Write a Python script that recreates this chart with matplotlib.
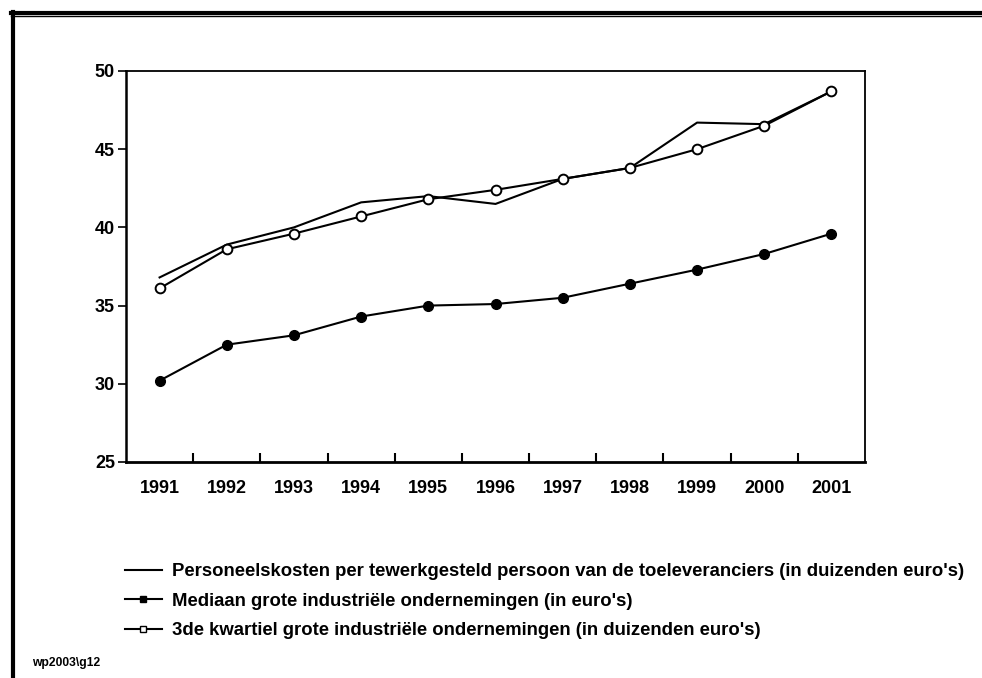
import matplotlib
matplotlib.use("Agg")
import matplotlib.pyplot as plt
from matplotlib.lines import Line2D
import numpy as np

plt.rcParams['font.family'] = ['Liberation Sans', 'DejaVu Sans']
plt.rcParams['font.weight'] = 'bold'

years = ["1991", "1992", "1993", "1994", "1995", "1996", "1997", "1998", "1999", "2000", "2001"]
personeelskosten = [36.8, 38.9, 40.0, 41.6, 42.0, 41.5, 43.1, 43.8, 46.7, 46.6, 48.7]
mediaan = [30.2, 32.5, 33.1, 34.3, 35.0, 35.1, 35.5, 36.4, 37.3, 38.3, 39.6]
kwartiel = [36.1, 38.6, 39.6, 40.7, 41.8, 42.4, 43.1, 43.8, 45.0, 46.5, 48.7]

labels = [
    "Personeelskosten per tewerkgesteld persoon van de toeleveranciers (in duizenden euro's)",
    "Mediaan grote industriële ondernemingen (in euro's)",
    "3de kwartiel grote industriële ondernemingen (in duizenden euro's)",
]

fig = plt.figure(figsize=(9.82, 6.78), dpi=100)
ax = fig.add_axes([0.1283, 0.3186, 0.7526, 0.5767])

x = np.arange(len(years))
ax.plot(x, personeelskosten, color='black', lw=1.5)
ax.plot(x, mediaan, color='black', lw=1.5, marker='o', ms=7,
        mfc='black', mec='black')
ax.plot(x, kwartiel, color='black', lw=1.5, marker='o', ms=7,
        mfc='white', mec='black', mew=1.4)

ax.set_xlim(-0.5, len(years) - 0.5)
ax.set_ylim(25, 50)
ax.set_yticks(range(25, 51, 5))
ax.set_yticklabels([str(v) for v in range(25, 51, 5)], fontsize=13, fontweight='bold')

# ticks between categories, labels at the centre
ax.set_xticks(x[:-1] + 0.5)
ax.set_xticklabels([])
ax.set_xticks(x, minor=True)
ax.set_xticklabels(years, minor=True, fontsize=13, fontweight='bold')
ax.tick_params(axis='x', which='major', direction='in', length=6.5, width=1.5)
ax.tick_params(axis='x', which='minor', length=0, pad=13)
ax.tick_params(axis='y', direction='out', length=6, width=1.2, pad=2)

for s in ax.spines.values():
    s.set_linewidth(1.3)
ax.spines['left'].set_linewidth(1.8)
ax.spines['bottom'].set_linewidth(2.0)

handles = [
    Line2D([], [], color='black', lw=1.5),
    Line2D([], [], color='black', lw=1.5, marker='s', ms=5, mfc='black'),
    Line2D([], [], color='black', lw=1.5, marker='s', ms=5, mfc='white'),
]
fig.legend(handles, labels, loc='upper left', bbox_to_anchor=(0.1273, 0.1692),
           bbox_transform=fig.transFigure, frameon=False, handlelength=2.0,
           handletextpad=0.55, labelspacing=0.68, borderaxespad=0, borderpad=0,
           prop={'size': 13.3, 'weight': 'bold'})

fig.text(32 / 982, 1 - 663 / 678, "wp2003\\g12", fontsize=8.7, fontweight='bold',
         va='center')

# frame around the figure
fig.add_artist(Line2D([12.5 / 982, 12.5 / 982], [0, 1 - 12 / 678], color='black', lw=3,
                      transform=fig.transFigure))
fig.add_artist(Line2D([11 / 982, 1], [1 - 12.5 / 678, 1 - 12.5 / 678], color='black', lw=3,
                      transform=fig.transFigure))
fig.add_artist(Line2D([11 / 982, 1], [1 - 15.5 / 678, 1 - 15.5 / 678], color='black', lw=1,
                      transform=fig.transFigure))

fig.savefig("out.png", dpi=100)
